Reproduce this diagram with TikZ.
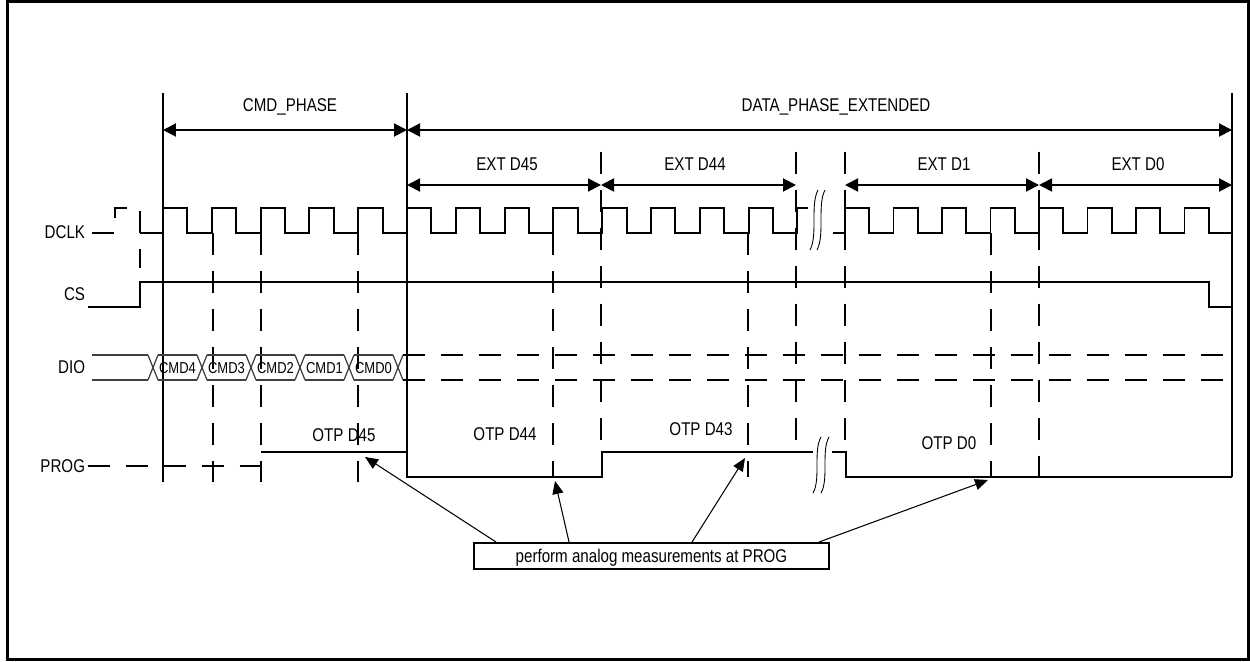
\documentclass[tikz,border=0pt]{standalone}
\usepackage{fontspec}
\setmainfont{Liberation Sans}[FakeStretch=0.82]
\usetikzlibrary{arrows.meta}

\begin{document}
\begin{tikzpicture}[x=0.02cm, y=-0.02cm, >={Triangle[length=0.26cm,width=0.26cm]},
    line width=1.1pt, font=\fontsize{10.5}{12}\selectfont,
    every node/.style={inner sep=0pt, text height=7.5pt, text depth=0pt},
    sig/.style={anchor=east},
    cell/.style={font=\fontsize{9}{10}\selectfont, text height=6.4pt},
    dsh/.style={dash pattern=on 0.44cm off 0.32cm},
    bus/.style={line width=0.7pt, draw=black!75},
    brk/.style={line width=0.5pt},
    ann/.style={line width=0.6pt, -{Triangle[length=0.26cm,width=0.22cm]}}]
    \useasboundingbox (0,0) rectangle (1250,662);
    \draw[line width=1.7pt] (7.5,1.5) rectangle (1248,659.5);

    \node[sig] (dclk) at (86,232) {DCLK};
    \node[sig] (cs) at (86,294) {CS};
    \node[sig] (dio) at (86,367) {DIO};
    \node[sig] (prog) at (86,466) {PROG};

    \coordinate (p0) at (163,130);
    \coordinate (p1) at (407,130);
    \coordinate (p2) at (1232,130);
    \draw[<->] (p0) -- (p1);
    \draw[<->] (p1) -- (p2);
    \node (cmdph) at (290,105) {CMD\_PHASE};
    \node (dataph) at (836,105) {DATA\_PHASE\_EXTENDED};

    \coordinate (e0) at (407,185);
    \coordinate (e1) at (601,185);
    \coordinate (e2) at (796,185);
    \coordinate (e3) at (845,185);
    \coordinate (e4) at (1039,185);
    \coordinate (e5) at (1232,185);
    \draw[<->] (e0) -- (e1);
    \draw[<->] (e1) -- (e2);
    \draw[<->] (e3) -- (e4);
    \draw[<->] (e4) -- (e5);
    \node (ext45) at (507,164) {EXT D45};
    \node (ext44) at (695,164) {EXT D44};
    \node (ext1) at (944,164) {EXT D1};
    \node (ext0) at (1138,164) {EXT D0};

    \draw (163,93) -- (163,482);
    \draw (407,93) -- (407,477);
    \draw (1232,93) -- (1232,477);
    \foreach \x/\a/\b in {213/233/482, 261/233/482, 358/233/482, 553/233/477,
        601/152/452, 748/233/477, 796/152/452, 845/152/452, 991/233/477, 1039/152/477}
        \draw[dsh] (\x,\a) -- (\x,\b);

    % DCLK
    \draw[dsh] (92,233) -- (115,233) -- (115,208) -- (140,208) -- (140,268);
    \draw (140,233) -- (163,233) foreach \k in {0,...,12} {
        -- ++(0,-25) -- ++(24.4,0) -- ++(0,25) -- ++(24.4,0)} -- ++(0,-25) -- ++(10.6,0);
    \draw (833,233) -- (845,233) foreach \k in {0,...,7} {
        -- ++(0,-25) -- ++(24.3,0) -- ++(0,25) -- ++(24.2,0)};
    \foreach \x in {814,821}
        \draw[brk] (\x+4,190) .. controls (\x-4,205) and (\x+4,235) .. (\x-4,250);

    % CS
    \draw (88,307) -- (140,307) -- (140,282) -- (1209,282) -- (1209,307) -- (1232,307);

    % DIO
    \draw[bus] (92,355) -- (148,355) (92,380) -- (148,380);
    \foreach \c in {153,202,251,300,349,398}
        \draw[bus] (\c-5,355) -- (\c+5,380) (\c-5,380) -- (\c+5,355);
    \foreach \c/\i in {153/4,202/3,251/2,300/1,349/0} {
        \draw[bus] (\c+5,355) -- (\c+44,355) (\c+5,380) -- (\c+44,380);
        \node[cell] (cmd\i) at (\c+24.5,367.5) {CMD\i};
    }
    \draw[dsh] (403,355) -- (1232,355);
    \draw[dsh] (403,380) -- (1232,380);

    % PROG
    \draw[dsh] (88,466) -- (261,466);
    \draw (261,452) -- (407,452) -- (407,477) -- (602,477) -- (602,452) -- (813,452);
    \draw (832,452) -- (846,452) -- (846,477) -- (1232,477);
    \foreach \x in {817,825}
        \draw[brk] (\x+4,437) .. controls (\x-4,451) and (\x+4,479) .. (\x-4,493);
    \node (otp45) at (344,434.5) {OTP D45};
    \node (otp44) at (505,434) {OTP D44};
    \node (otp43) at (701,429) {OTP D43};
    \node (otp0) at (949,443) {OTP D0};

    \node[draw, minimum width=7.1cm, minimum height=0.52cm] (note) at (651.5,556)
        {perform analog measurements at PROG};
    \coordinate (m45) at (365,457);
    \coordinate (m44) at (555,481);
    \coordinate (m43) at (745,458);
    \coordinate (m0) at (988,480);
    \draw[ann] ([xshift=0.46cm]note.north west) -- (m45);
    \draw[ann] ([xshift=1.92cm]note.north west) -- (m44);
    \draw[ann] ([xshift=4.38cm]note.north west) -- (m43);
    \draw[ann] ([xshift=6.92cm]note.north west) -- (m0);
\end{tikzpicture}
\end{document}
